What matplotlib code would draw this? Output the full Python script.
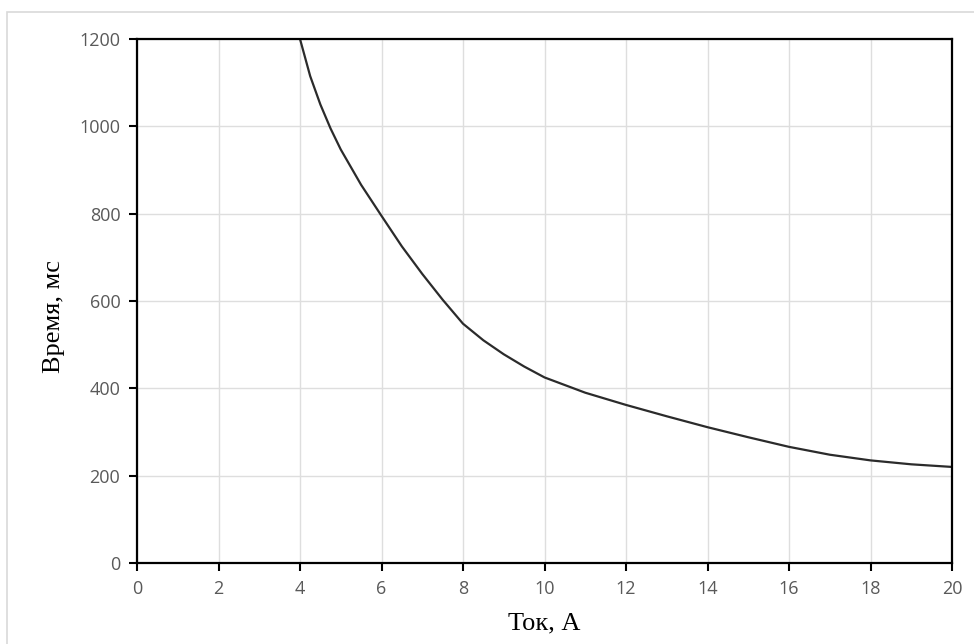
import matplotlib
matplotlib.use('Agg')
import matplotlib.pyplot as plt
from matplotlib.patches import Rectangle

# Values
current = [4.0, 4.25, 4.5, 4.75, 5, 5.5, 6, 6.5, 7, 7.5, 8, 8.5, 9, 9.5, 10,
           11, 12, 13, 14, 15, 16, 17, 18, 19, 20]
time_ms = [1200, 1115, 1050, 995, 947, 866, 795, 725, 662, 603, 548, 510, 478, 450, 425,
           390, 362, 336, 311, 288, 266, 248, 235, 226, 220]

x_ticks = list(range(0, 21, 2))
y_ticks = list(range(0, 1201, 200))

fig = plt.figure(figsize=(9.74, 6.44), dpi=100)
fig.patches.append(Rectangle((7 / 974, -0.01), 1.2, 1 - 12 / 644 + 0.01,
                             transform=fig.transFigure, fill=False,
                             edgecolor='#d9d9d9', linewidth=1.2))

ax = fig.add_axes([137 / 974, 1 - 563 / 644, (952 - 137) / 974, (563 - 39) / 644])
ax.plot(current, time_ms, color='#2b2b2b', linewidth=1.6)

ax.set_xlim(0, 20)
ax.set_ylim(0, 1200)
ax.set_xticks(x_ticks)
ax.set_yticks(y_ticks)
ax.grid(True, color='#dedede', linewidth=1)
ax.set_axisbelow(True)
for s in ax.spines.values():
    s.set_color('black')
    s.set_linewidth(1.6)
ax.tick_params(direction='out', length=6, width=1.5, color='black',
               labelcolor='#595959', labelsize=13, pad=6)
for lab in ax.get_xticklabels() + ax.get_yticklabels():
    lab.set_family('Open Sans')

ax.set_xlabel('Ток, А', fontsize=19, family='Liberation Serif')
ax.set_ylabel('Время, мс', fontsize=19, family='Liberation Serif')
ax.xaxis.set_label_coords(0.5, -0.095)
ax.yaxis.set_label_coords(-0.088, 0.47)

fig.savefig('out.png', dpi=100)
